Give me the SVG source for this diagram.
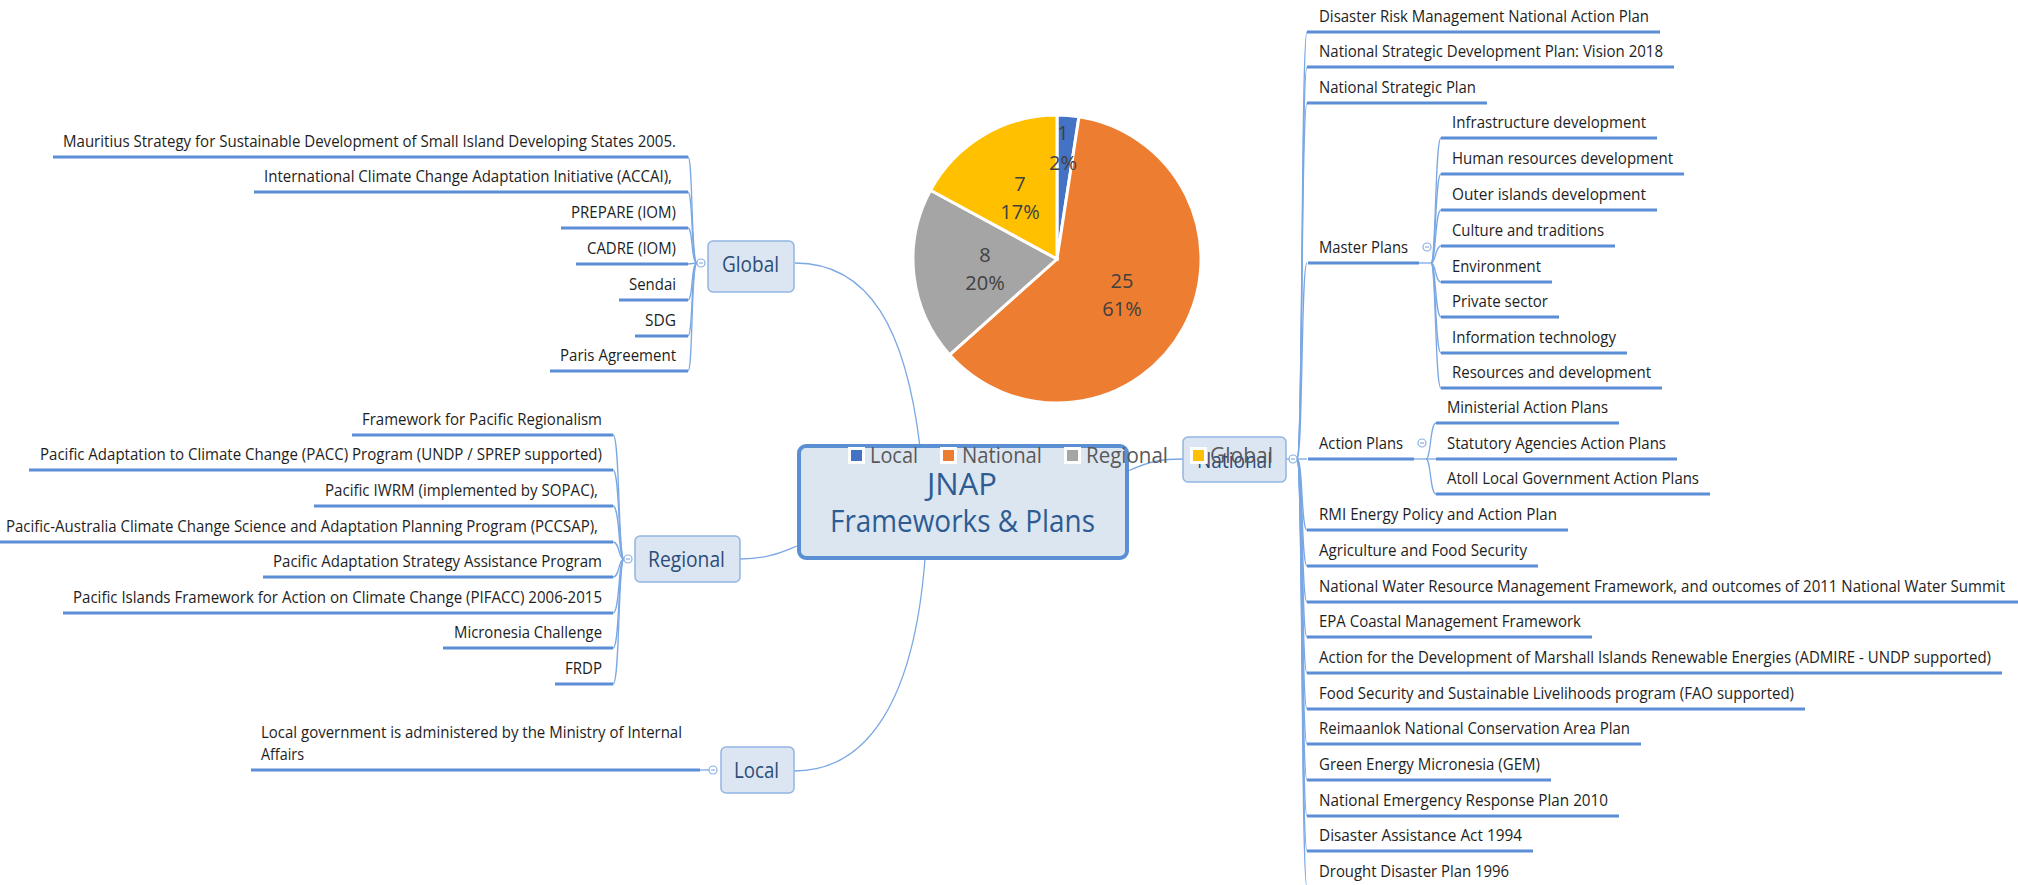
<svg xmlns="http://www.w3.org/2000/svg" width="2018" height="885" viewBox="0 0 2018 885">
<defs>
<style>
.t{font-family:"Open Sans","Noto Sans","Liberation Sans",sans-serif;font-size:16.5px;fill:#1e1e1e}
.ul{stroke:#5b8ed6;stroke-width:3;fill:none}
.cn{stroke:#7ba8e4;stroke-width:1.3;fill:none}
.box{fill:#dce6f2;stroke:#92b5e4;stroke-width:1.5}
.bt{font-family:"Open Sans","Noto Sans","Liberation Sans",sans-serif;font-size:21px;fill:#2b4c78}
.cc{fill:#fff;stroke:#88aee2;stroke-width:1.2}
.cm{stroke:#88aee2;stroke-width:1.2}
.pl{font-family:"Open Sans","Liberation Sans",sans-serif;font-size:20px;fill:#404040;text-anchor:middle}
.lg{font-family:"Open Sans","Liberation Sans",sans-serif;font-size:21px;fill:#595959}
</style>
</defs>
<rect width="2018" height="885" fill="#fff"/>

<g id="connectors">
<!-- main branches -->
<path class="cn" d="M795,263 C870,263 906,330 920,447"/>
<path class="cn" d="M740,559 C768,559 782,552 797,546"/>
<path class="cn" d="M794,771 C868,771 914,700 925,559"/>
<path class="cn" d="M1128,471 C1150,461 1162,459 1183,459"/>
<!-- global bracket -->
<path class="cn" d="M697,263 C691,263 693,157 688,157"/>
<path class="cn" d="M697,263 C691,263 693,192 688,192"/>
<path class="cn" d="M697,263 C691,263 693,228 688,228"/>
<path class="cn" d="M697,263 L688,264"/>
<path class="cn" d="M697,263 C691,263 693,300 688,300"/>
<path class="cn" d="M697,263 C691,263 693,336 688,336"/>
<path class="cn" d="M697,263 C691,263 693,371 688,371"/>
<!-- regional bracket -->
<path class="cn" d="M624,559 C618,559 620,435 613,435"/>
<path class="cn" d="M624,559 C618,559 620,470 613,470"/>
<path class="cn" d="M624,559 C618,559 620,506 613,506"/>
<path class="cn" d="M624,559 C618,559 620,542 613,542"/>
<path class="cn" d="M624,559 C618,559 620,577 613,577"/>
<path class="cn" d="M624,559 C618,559 620,613 613,613"/>
<path class="cn" d="M624,559 C618,559 620,648 613,648"/>
<path class="cn" d="M624,559 C618,559 620,684 613,684"/>
<!-- local -->
<path class="cn" d="M700,770 L709,770"/>
<!-- national bracket -->
<g style="stroke-width:1.8">
<path class="cn" d="M1297,459 C1303,459 1301,32 1307,32"/>
<path class="cn" d="M1297,459 C1303,459 1301,67 1307,67"/>
<path class="cn" d="M1297,459 C1303,459 1301,103 1307,103"/>
<path class="cn" d="M1297,459 C1303,459 1301,263 1307,263"/>
<path class="cn" d="M1297,459 L1307,459"/>
<path class="cn" d="M1297,459 C1303,459 1301,530 1307,530"/>
<path class="cn" d="M1297,459 C1303,459 1301,566 1307,566"/>
<path class="cn" d="M1297,459 C1303,459 1301,602 1307,602"/>
<path class="cn" d="M1297,459 C1303,459 1301,637 1307,637"/>
<path class="cn" d="M1297,459 C1303,459 1301,673 1307,673"/>
<path class="cn" d="M1297,459 C1303,459 1301,709 1307,709"/>
<path class="cn" d="M1297,459 C1303,459 1301,744 1307,744"/>
<path class="cn" d="M1297,459 C1303,459 1301,780 1307,780"/>
<path class="cn" d="M1297,459 C1303,459 1301,816 1307,816"/>
<path class="cn" d="M1297,459 C1303,459 1301,851 1307,851"/>
<path class="cn" d="M1297,459 C1303,459 1301,887 1307,887"/>
</g>
<path class="cn" d="M1286,459 L1289,459"/>
<!-- master plans bracket -->
<path class="cn" d="M1419,263 L1431,263"/>
<path class="cn" d="M1431,263 C1436,263 1435,138 1441,138"/>
<path class="cn" d="M1431,263 C1436,263 1435,174 1441,174"/>
<path class="cn" d="M1431,263 C1436,263 1435,210 1441,210"/>
<path class="cn" d="M1431,263 C1436,263 1435,246 1441,246"/>
<path class="cn" d="M1431,263 C1436,263 1435,282 1441,282"/>
<path class="cn" d="M1431,263 C1436,263 1435,317 1441,317"/>
<path class="cn" d="M1431,263 C1436,263 1435,353 1441,353"/>
<path class="cn" d="M1431,263 C1436,263 1435,388 1441,388"/>
<!-- action plans bracket -->
<path class="cn" d="M1414,459 L1426,459"/>
<path class="cn" d="M1426,459 C1431,459 1430,423 1436,423"/>
<path class="cn" d="M1426,459 L1436,459"/>
<path class="cn" d="M1426,459 C1431,459 1430,494 1436,494"/>
</g>

<g id="pie">
<path d="M1057,259 L1057,115 A144,144 0 0 1 1078.98,116.69 Z" fill="#4472c4" stroke="#fff" stroke-width="3"/>
<path d="M1057,259 L1078.98,116.69 A144,144 0 1 1 949.51,354.82 Z" fill="#ed7d31" stroke="#fff" stroke-width="3"/>
<path d="M1057,259 L949.51,354.82 A144,144 0 0 1 930.50,190.20 Z" fill="#a5a5a5" stroke="#fff" stroke-width="3"/>
<path d="M1057,259 L930.50,190.20 A144,144 0 0 1 1057,115 Z" fill="#ffc000" stroke="#fff" stroke-width="3"/>
<text class="pl" x="1063" y="140">1</text>
<text class="pl" x="1063" y="170">2%</text>
<text class="pl" x="1020" y="191">7</text>
<text class="pl" x="1020" y="219">17%</text>
<text class="pl" x="985" y="262">8</text>
<text class="pl" x="985" y="290">20%</text>
<text class="pl" x="1122" y="288">25</text>
<text class="pl" x="1122" y="316">61%</text>
</g>

<g id="jnap">
<rect x="799" y="446" width="328" height="112" rx="7" fill="#dce6f1" stroke="#5b8fd4" stroke-width="4"/>
<text x="962" y="495" text-anchor="middle" style="font-family:'Open Sans','Liberation Sans',sans-serif;font-size:31px;fill:#2e5c92">JNAP</text>
<text x="830" y="532" textLength="265" lengthAdjust="spacingAndGlyphs" style="font-family:'Open Sans','Liberation Sans',sans-serif;font-size:31px;fill:#2e5c92">Frameworks &amp; Plans</text>
</g>

<g id="global">
<rect class="box" x="708" y="241" width="86" height="51" rx="5"/>
<text class="bt" x="722" y="272" textLength="57" lengthAdjust="spacingAndGlyphs">Global</text>
<circle class="cc" cx="701" cy="263" r="4"/><path class="cm" d="M699,263 H703"/>
</g>
<g id="global-children">
<text class="t" x="63" y="147" textLength="613" lengthAdjust="spacingAndGlyphs">Mauritius Strategy for Sustainable Development of Small Island Developing States 2005.</text>
<path class="ul" d="M53,157 H688"/>
<text class="t" x="264" y="182" textLength="408" lengthAdjust="spacingAndGlyphs">International Climate Change Adaptation Initiative (ACCAI),</text>
<path class="ul" d="M254,192 H688"/>
<text class="t" x="571" y="218" textLength="105" lengthAdjust="spacingAndGlyphs">PREPARE (IOM)</text>
<path class="ul" d="M561,228 H688"/>
<text class="t" x="587" y="254" textLength="89" lengthAdjust="spacingAndGlyphs">CADRE (IOM)</text>
<path class="ul" d="M576,264 H688"/>
<text class="t" x="629" y="290" textLength="47" lengthAdjust="spacingAndGlyphs">Sendai</text>
<path class="ul" d="M619,300 H688"/>
<text class="t" x="645" y="326" textLength="31" lengthAdjust="spacingAndGlyphs">SDG</text>
<path class="ul" d="M635,336 H688"/>
<text class="t" x="560" y="361" textLength="116" lengthAdjust="spacingAndGlyphs">Paris Agreement</text>
<path class="ul" d="M550,371 H688"/>
</g>

<g id="regional">
<rect class="box" x="635" y="536" width="105" height="46" rx="5"/>
<text class="bt" x="648" y="567" textLength="77" lengthAdjust="spacingAndGlyphs">Regional</text>
<circle class="cc" cx="628" cy="559" r="4"/><path class="cm" d="M626,559 H630"/>
</g>
<g id="regional-children">
<text class="t" x="362" y="425" textLength="240" lengthAdjust="spacingAndGlyphs">Framework for Pacific Regionalism</text>
<path class="ul" d="M352,435 H613"/>
<text class="t" x="40" y="460" textLength="562" lengthAdjust="spacingAndGlyphs">Pacific Adaptation to Climate Change (PACC) Program (UNDP / SPREP supported)</text>
<path class="ul" d="M29,470 H613"/>
<text class="t" x="325" y="496" textLength="273" lengthAdjust="spacingAndGlyphs">Pacific IWRM (implemented by SOPAC),</text>
<path class="ul" d="M314,506 H613"/>
<text class="t" x="6" y="532" textLength="592" lengthAdjust="spacingAndGlyphs">Pacific-Australia Climate Change Science and Adaptation Planning Program (PCCSAP),</text>
<path class="ul" d="M0,542 H613"/>
<text class="t" x="273" y="567" textLength="329" lengthAdjust="spacingAndGlyphs">Pacific Adaptation Strategy Assistance Program</text>
<path class="ul" d="M263,577 H613"/>
<text class="t" x="73" y="603" textLength="529" lengthAdjust="spacingAndGlyphs">Pacific Islands Framework for Action on Climate Change (PIFACC) 2006-2015</text>
<path class="ul" d="M63,613 H613"/>
<text class="t" x="454" y="638" textLength="148" lengthAdjust="spacingAndGlyphs">Micronesia Challenge</text>
<path class="ul" d="M443,648 H613"/>
<text class="t" x="565" y="674" textLength="37" lengthAdjust="spacingAndGlyphs">FRDP</text>
<path class="ul" d="M555,684 H613"/>
</g>

<g id="local">
<rect class="box" x="721" y="747" width="73" height="46" rx="5"/>
<text class="bt" x="734" y="778" textLength="45" lengthAdjust="spacingAndGlyphs">Local</text>
<circle class="cc" cx="713" cy="770" r="4"/><path class="cm" d="M711,770 H715"/>
</g>
<g id="local-children">
<text class="t" x="261" y="738" textLength="421" lengthAdjust="spacingAndGlyphs">Local government is administered by the Ministry of Internal</text>
<text class="t" x="261" y="760" textLength="43" lengthAdjust="spacingAndGlyphs">Affairs</text>
<path class="ul" d="M251,770 H700"/>
</g>

<g id="national">
<rect class="box" x="1183" y="437" width="103" height="45" rx="5"/>
<text class="bt" x="1197" y="468" textLength="75" lengthAdjust="spacingAndGlyphs">National</text>
<circle class="cc" cx="1293" cy="459" r="4"/><path class="cm" d="M1291,459 H1295"/>
</g>
<g id="national-children">
<text class="t" x="1319" y="22" textLength="330" lengthAdjust="spacingAndGlyphs">Disaster Risk Management National Action Plan</text>
<path class="ul" d="M1307,32 H1660"/>
<text class="t" x="1319" y="57" textLength="344" lengthAdjust="spacingAndGlyphs">National Strategic Development Plan: Vision 2018</text>
<path class="ul" d="M1307,67 H1674"/>
<text class="t" x="1319" y="93" textLength="157" lengthAdjust="spacingAndGlyphs">National Strategic Plan</text>
<path class="ul" d="M1307,103 H1487"/>
<text class="t" x="1319" y="253" textLength="89" lengthAdjust="spacingAndGlyphs">Master Plans</text>
<path class="ul" d="M1308,263 H1419"/>
<circle class="cc" cx="1427" cy="247" r="4"/><path class="cm" d="M1425,247 H1429"/>
<text class="t" x="1319" y="449" textLength="84" lengthAdjust="spacingAndGlyphs">Action Plans</text>
<path class="ul" d="M1308,459 H1414"/>
<circle class="cc" cx="1422" cy="443" r="4"/><path class="cm" d="M1420,443 H1424"/>
<text class="t" x="1319" y="520" textLength="238" lengthAdjust="spacingAndGlyphs">RMI Energy Policy and Action Plan</text>
<path class="ul" d="M1307,530 H1568"/>
<text class="t" x="1319" y="556" textLength="208" lengthAdjust="spacingAndGlyphs">Agriculture and Food Security</text>
<path class="ul" d="M1307,566 H1538"/>
<text class="t" x="1319" y="592" textLength="686" lengthAdjust="spacingAndGlyphs">National Water Resource Management Framework, and outcomes of 2011 National Water Summit</text>
<path class="ul" d="M1307,602 H2018"/>
<text class="t" x="1319" y="627" textLength="262" lengthAdjust="spacingAndGlyphs">EPA Coastal Management Framework</text>
<path class="ul" d="M1307,637 H1592"/>
<text class="t" x="1319" y="663" textLength="672" lengthAdjust="spacingAndGlyphs">Action for the Development of Marshall Islands Renewable Energies (ADMIRE - UNDP supported)</text>
<path class="ul" d="M1307,673 H2002"/>
<text class="t" x="1319" y="699" textLength="475" lengthAdjust="spacingAndGlyphs">Food Security and Sustainable Livelihoods program (FAO supported)</text>
<path class="ul" d="M1307,709 H1805"/>
<text class="t" x="1319" y="734" textLength="311" lengthAdjust="spacingAndGlyphs">Reimaanlok National Conservation Area Plan</text>
<path class="ul" d="M1307,744 H1641"/>
<text class="t" x="1319" y="770" textLength="221" lengthAdjust="spacingAndGlyphs">Green Energy Micronesia (GEM)</text>
<path class="ul" d="M1307,780 H1551"/>
<text class="t" x="1319" y="806" textLength="289" lengthAdjust="spacingAndGlyphs">National Emergency Response Plan 2010</text>
<path class="ul" d="M1307,816 H1619"/>
<text class="t" x="1319" y="841" textLength="203" lengthAdjust="spacingAndGlyphs">Disaster Assistance Act 1994</text>
<path class="ul" d="M1307,851 H1533"/>
<text class="t" x="1319" y="877" textLength="190" lengthAdjust="spacingAndGlyphs">Drought Disaster Plan 1996</text>
<path class="ul" d="M1307,887 H1520"/>
</g>

<g id="master-plans-children">
<text class="t" x="1452" y="128" textLength="194" lengthAdjust="spacingAndGlyphs">Infrastructure development</text>
<path class="ul" d="M1441,138 H1657"/>
<text class="t" x="1452" y="164" textLength="221" lengthAdjust="spacingAndGlyphs">Human resources development</text>
<path class="ul" d="M1441,174 H1684"/>
<text class="t" x="1452" y="200" textLength="194" lengthAdjust="spacingAndGlyphs">Outer islands development</text>
<path class="ul" d="M1441,210 H1657"/>
<text class="t" x="1452" y="236" textLength="152" lengthAdjust="spacingAndGlyphs">Culture and traditions</text>
<path class="ul" d="M1441,246 H1615"/>
<text class="t" x="1452" y="272" textLength="89" lengthAdjust="spacingAndGlyphs">Environment</text>
<path class="ul" d="M1441,282 H1552"/>
<text class="t" x="1452" y="307" textLength="96" lengthAdjust="spacingAndGlyphs">Private sector</text>
<path class="ul" d="M1441,317 H1559"/>
<text class="t" x="1452" y="343" textLength="164" lengthAdjust="spacingAndGlyphs">Information technology</text>
<path class="ul" d="M1441,353 H1627"/>
<text class="t" x="1452" y="378" textLength="199" lengthAdjust="spacingAndGlyphs">Resources and development</text>
<path class="ul" d="M1441,388 H1662"/>
</g>

<g id="action-plans-children">
<text class="t" x="1447" y="413" textLength="161" lengthAdjust="spacingAndGlyphs">Ministerial Action Plans</text>
<path class="ul" d="M1436,423 H1619"/>
<text class="t" x="1447" y="449" textLength="219" lengthAdjust="spacingAndGlyphs">Statutory Agencies Action Plans</text>
<path class="ul" d="M1436,459 H1677"/>
<text class="t" x="1447" y="484" textLength="252" lengthAdjust="spacingAndGlyphs">Atoll Local Government Action Plans</text>
<path class="ul" d="M1436,494 H1710"/>
</g>

<g id="legend">
<rect x="848" y="447" width="17" height="17" fill="#fff"/><rect x="851" y="450" width="11" height="11" fill="#4472c4"/>
<text class="lg" x="870" y="463" textLength="48" lengthAdjust="spacingAndGlyphs">Local</text>
<rect x="940" y="447" width="17" height="17" fill="#fff"/><rect x="943" y="450" width="11" height="11" fill="#ed7d31"/>
<text class="lg" x="962" y="463" textLength="80" lengthAdjust="spacingAndGlyphs">National</text>
<rect x="1064" y="447" width="17" height="17" fill="#fff"/><rect x="1067" y="450" width="11" height="11" fill="#a5a5a5"/>
<text class="lg" x="1086" y="463" textLength="82" lengthAdjust="spacingAndGlyphs">Regional</text>
<rect x="1190" y="447" width="17" height="17" fill="#fff"/><rect x="1193" y="450" width="11" height="11" fill="#ffc000"/>
<text class="lg" x="1210" y="463" textLength="63" lengthAdjust="spacingAndGlyphs">Global</text>
</g>
</svg>
